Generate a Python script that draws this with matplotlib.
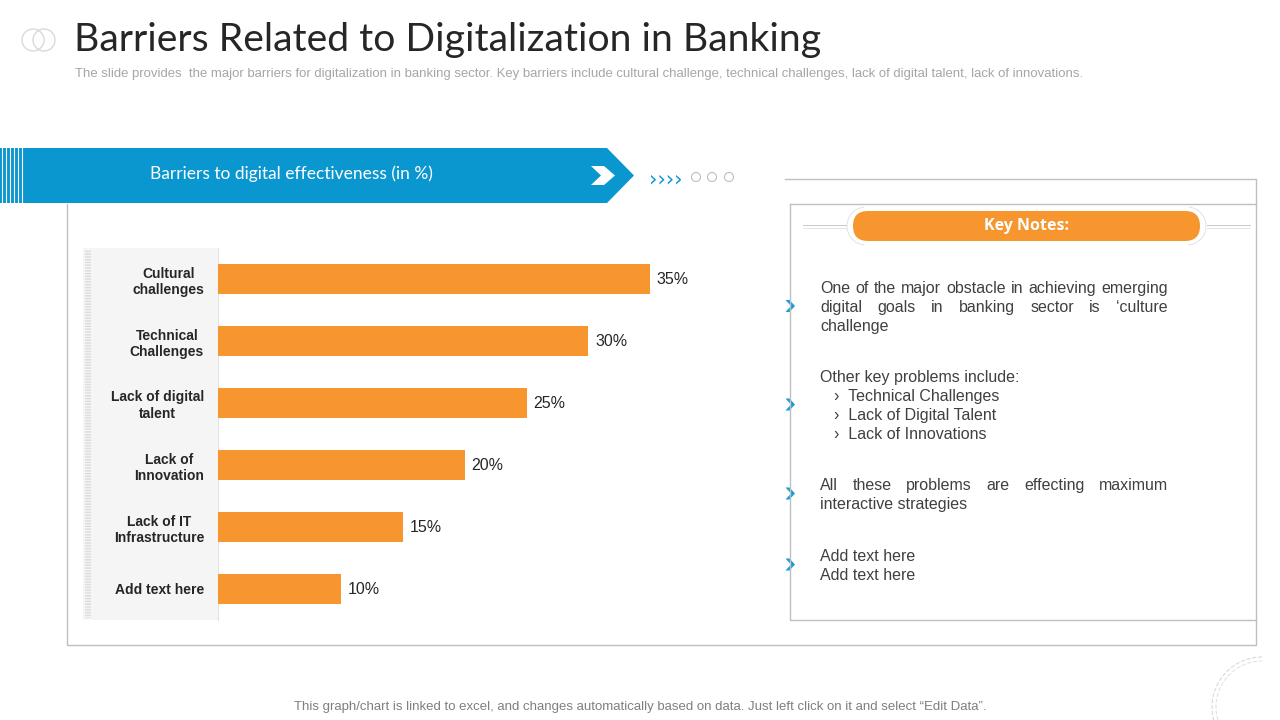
import matplotlib
matplotlib.use('Agg')
import matplotlib.pyplot as plt
from matplotlib.patches import Polygon, Rectangle, FancyBboxPatch, Circle, Arc

# data
categories = ['Cultural\nchallenges', 'Technical\nChallenges', 'Lack of digital\ntalent',
              'Lack of\nInnovation', 'Lack of IT\nInfrastructure', 'Add text here']
values = [35, 30, 25, 20, 15, 10]

title = 'Barriers Related to Digitalization in Banking'
subtitle = ('The slide provides  the major barriers for digitalization in banking sector. '
            'Key barriers include cultural challenge, technical challenges, lack of digital '
            'talent, lack of innovations.')
banner_text = 'Barriers to digital effectiveness (in %)'
footer = ('This graph/chart is linked to excel, and changes automatically based on data. '
          'Just left click on it and select \u201cEdit Data\u201d.')

# each note: list of (text, indent, justify)
notes = [
    [('One of the major obstacle in achieving emerging', 0, True),
     ('digital goals in banking sector is \u2018culture', 0, True),
     ('challenge', 0, False)],
    [('Other key problems include:', 0, False),
     ('\u203a  Technical Challenges', 1, False),
     ('\u203a  Lack of Digital Talent', 1, False),
     ('\u203a  Lack of Innovations', 1, False)],
    [('All these problems are effecting maximum', 0, True),
     ('interactive strategies', 0, False)],
    [('Add text here', 0, False),
     ('Add text here', 0, False)],
]

orange = '#F7962F'
blue = '#0A97CF'
line_gray = '#BFBFBF'
text_dark = '#404040'

fig = plt.figure(figsize=(12.8, 7.2), dpi=100)
bg = fig.add_axes([0, 0, 1, 1])
bg.set_xlim(0, 1280)
bg.set_ylim(720, 0)
bg.axis('off')

# header
bg.add_patch(Circle((33, 40), 11, fill=False, ec='#D9D9D9', lw=1))
bg.add_patch(Circle((44, 40), 11, fill=False, ec='#D9D9D9', lw=1))
bg.text(74, 40, title, fontsize=28.2, family='Lato', color='#262626', va='center')
bg.text(75, 74, subtitle, fontsize=9.45, family='Liberation Sans', color='#A6A6A6', va='center')

# blue banner
bg.add_patch(Polygon([(0, 148), (607, 148), (634, 175.5), (607, 203), (0, 203)],
                     closed=True, fc=blue, ec='none'))
for x in [2, 6, 10, 14, 18, 22]:
    bg.plot([x, x], [148, 203], color='white', lw=0.8)
bg.add_patch(Polygon([(591, 166), (604, 166), (615, 175.5), (604, 185), (591, 185), (601, 175.5)],
                     closed=True, fc='white', ec='none'))
bg.text(150, 174, banner_text, fontsize=12.5, family='Lato', color='white', va='center')
bg.text(649, 177, '\u203a\u203a\u203a\u203a', fontsize=15, family='DejaVu Sans', color=blue,
        va='center_baseline')
for cx in [696, 712, 729]:
    bg.add_patch(Circle((cx, 177), 4.5, fill=False, ec='#BFBFBF', lw=0.8))

# frames
bg.plot([67, 67, 1256, 1256, 785], [204, 645, 645, 179, 179], color=line_gray, lw=1)
bg.plot([790, 790, 1256], [204, 620, 620], color=line_gray, lw=1)
bg.plot([790, 1256], [204, 204], color=line_gray, lw=1)

# key notes pill
for xs in [(803, 846), (1207, 1250)]:
    bg.plot(xs, [225, 225], color='#C8C8C8', lw=0.7)
    bg.plot(xs, [227.5, 227.5], color='#DADADA', lw=0.5)
bg.add_patch(Arc((866, 226), 38, 38, theta1=95, theta2=265, ec='#DDE3EA', lw=0.7))
bg.add_patch(Arc((1187, 226), 38, 38, theta1=-85, theta2=85, ec='#DDE3EA', lw=0.7))
bg.add_patch(FancyBboxPatch((853, 211), 347, 30,
                            boxstyle='round,pad=0,rounding_size=15', fc=orange, ec='none'))
bg.text(1027, 226, 'Key Notes:', fontsize=11.5, family='Open Sans', fontweight='bold',
        color='white', ha='center', va='center')

# label panel behind categories
bg.add_patch(Rectangle((83, 248), 135, 372, fc='#F5F5F5', ec='none'))
bg.add_patch(Rectangle((85, 250), 6, 368, fc='none', ec='#DCDCDC', lw=0, hatch='------'))
bg.plot([218, 218], [248, 620], color='#E3E3E3', lw=0.8)

# notes text
renderer = fig.canvas.get_renderer()
x_text, x_right = 820, 1168
para_tops = [287, 376, 484, 555]
for para, top in zip(notes, para_tops):
    n = len(para)
    cy = top + (n - 1) * 19 / 2
    bg.add_patch(Polygon([(785.5, cy - 6), (789.5, cy - 6), (795, cy), (789.5, cy + 6),
                          (785.5, cy + 6), (791, cy)], closed=True, fc='#1D9AD0', ec='none'))
    for k, (line, indent, just) in enumerate(para):
        y = top + k * 19
        x0 = x_text + 14 * indent
        if not just:
            bg.text(x0, y, line, fontsize=11.5, family='Liberation Sans', color=text_dark,
                    va='center_baseline')
            continue
        words = line.split()
        objs = [bg.text(x0, y, w, fontsize=11.5, family='Liberation Sans', color=text_dark,
                        va='center_baseline') for w in words]
        widths = [o.get_window_extent(renderer).width for o in objs]
        gap = (x_right - x0 - sum(widths)) / (len(words) - 1)
        xpos = x0
        for o, w in zip(objs, widths):
            o.set_x(xpos)
            xpos += w + gap

# footer
bg.text(640, 707, footer, fontsize=9.5, family='Liberation Sans', color='#7F7F7F',
        ha='center', va='center')

# bottom-right dashed ring
bg.add_patch(Arc((1262, 707), 100, 100, theta1=90, theta2=270, ec='#D9D9D9', lw=0.8, ls='--'))
bg.add_patch(Arc((1262, 707), 92, 92, theta1=90, theta2=270, ec='#E3E3E3', lw=0.8, ls='--'))

# bar chart
ax = fig.add_axes([218 / 1280, 1 - 620 / 720, 432 / 1280, 372 / 720])
ax.patch.set_alpha(0)
pos = list(range(len(categories)))
ax.barh(pos, values, height=0.485, color=orange)
for p, v in zip(pos, values):
    ax.text(v + 0.55, p, f'{v}%', va='center', fontsize=11.5, family='Liberation Sans',
            color='#262626')
ax.set_xlim(0, 35)
ax.set_ylim(5.5, -0.5)
ax.set_xticks([])
ax.set_yticks(pos)
ax.set_yticklabels(categories, fontsize=10, family='Liberation Sans', fontweight='bold',
                   color='#262626')
for lbl in ax.get_yticklabels():
    lbl.set_multialignment('center')
ax.tick_params(axis='y', length=0, pad=10)
for s in ax.spines.values():
    s.set_visible(False)

fig.savefig('out.png', dpi=100)
